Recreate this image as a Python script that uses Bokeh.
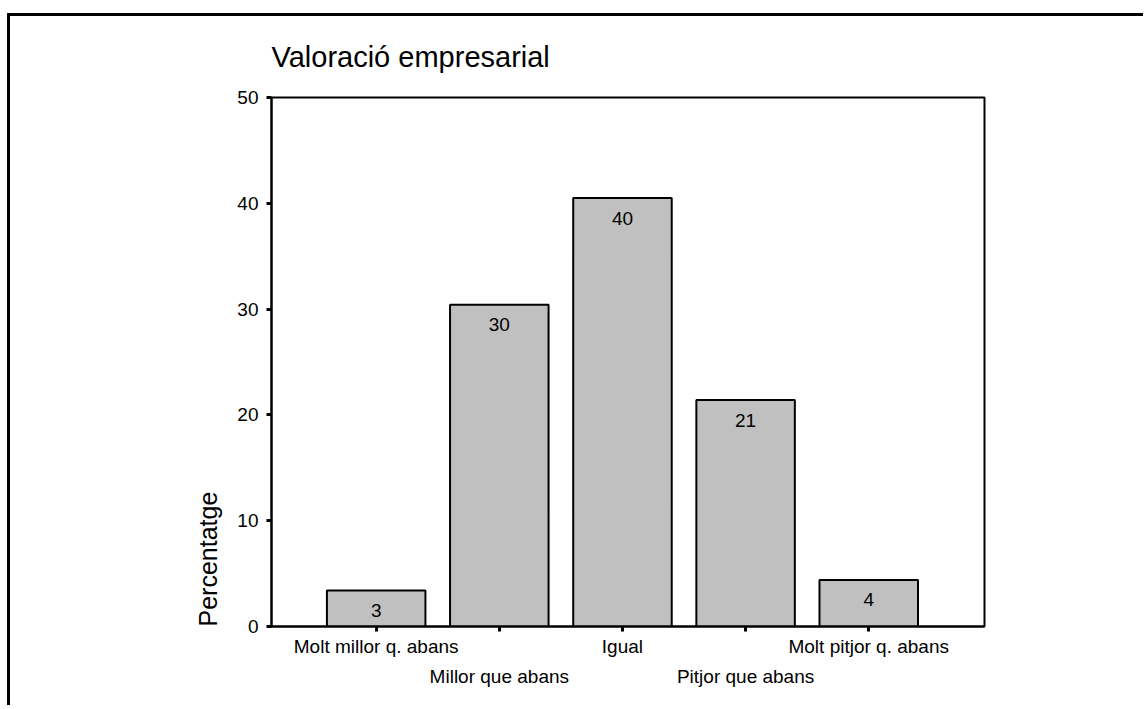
from bokeh.plotting import figure
from bokeh.models import Range1d, FixedTicker, ColumnDataSource, LinearAxis, Title
from bokeh.core.properties import value
from bokeh.embed import file_html
from bokeh.resources import INLINE

# ---- data ----
categories = ["Molt millor q. abans", "Millor que abans", "Igual",
              "Pitjor que abans", "Molt pitjor q. abans"]
percentages = [3.4, 30.4, 40.5, 21.4, 4.4]
bar_labels = ["3", "30", "40", "21", "4"]
y_ticks = [0, 10, 20, 30, 40, 50]

FONT = "Liberation Sans"
xs = list(range(1, len(categories) + 1))

W, H = 1136, 692
p = figure(width=W, height=H, output_backend="svg", toolbar_location=None,
           x_range=Range1d(0.15, 5.94), y_range=Range1d(0, 50),
           min_border_left=261, min_border_right=W - 974,
           min_border_top=81, min_border_bottom=H - 610,
           title="Valoració empresarial")
p.styles = {"border-left": "3px solid black", "border-top": "3px solid black",
            "margin-top": "13px", "margin-left": "7px"}

p.title.text_font = FONT
p.title.text_font_size = "29px"
p.title.text_font_style = "normal"
p.title.align = "left"
p.title.vertical_align = "top"
p.title.standoff = 46
p.title.text_color = "black"

p.background_fill_color = "white"
p.border_fill_color = "white"
p.outline_line_color = "black"
p.outline_line_width = 2
p.xgrid.visible = False
p.ygrid.visible = False

src = ColumnDataSource(dict(x=xs, top=percentages, lab=bar_labels, cat=categories))
p.vbar(x="x", top="top", bottom=0, width=0.8, source=src,
       fill_color="#c0c0c0", line_color="black", line_width=2)
p.text(x="x", y="top", text="lab", source=src, text_align="center",
       text_baseline="middle", y_offset=20, text_font=value(FONT),
       text_font_size="19px", text_color="black")

def style_axis(ax):
    ax.axis_line_width = 2
    ax.axis_line_color = "black"
    ax.major_tick_line_width = 3
    ax.major_tick_line_color = "black"
    ax.major_tick_out = 5
    ax.major_tick_in = 0
    ax.minor_tick_line_color = None
    ax.major_label_text_font = FONT
    ax.major_label_text_font_size = "19px"
    ax.major_label_text_color = "black"
    ax.major_label_standoff = 8

style_axis(p.xaxis[0])
style_axis(p.yaxis[0])

p.yaxis[0].ticker = FixedTicker(ticks=y_ticks)
p.xaxis[0].ticker = FixedTicker(ticks=xs)
p.xaxis[0].major_label_standoff = 4
p.xaxis[0].major_label_overrides = {i: (c if i % 2 == 1 else "") for i, c in zip(xs, categories)}

# second (staggered) row of category labels
even = [i for i in xs if i % 2 == 0]
ax2 = LinearAxis(ticker=FixedTicker(ticks=even),
                 major_label_overrides={i: categories[i - 1] for i in even})
style_axis(ax2)
ax2.axis_line_color = None
ax2.major_tick_line_color = None
ax2.major_tick_out = 0
ax2.major_label_standoff = 6
p.add_layout(ax2, "below")

# y-axis label, anchored at the bottom of the axis
ylab = Title(text="Percentatge", align="left", text_font=FONT,
             text_font_size="25px", text_font_style="normal",
             text_color="black", standoff=25)
p.add_layout(ylab, "left")

open("out.html", "w").write(file_html(p, INLINE))
